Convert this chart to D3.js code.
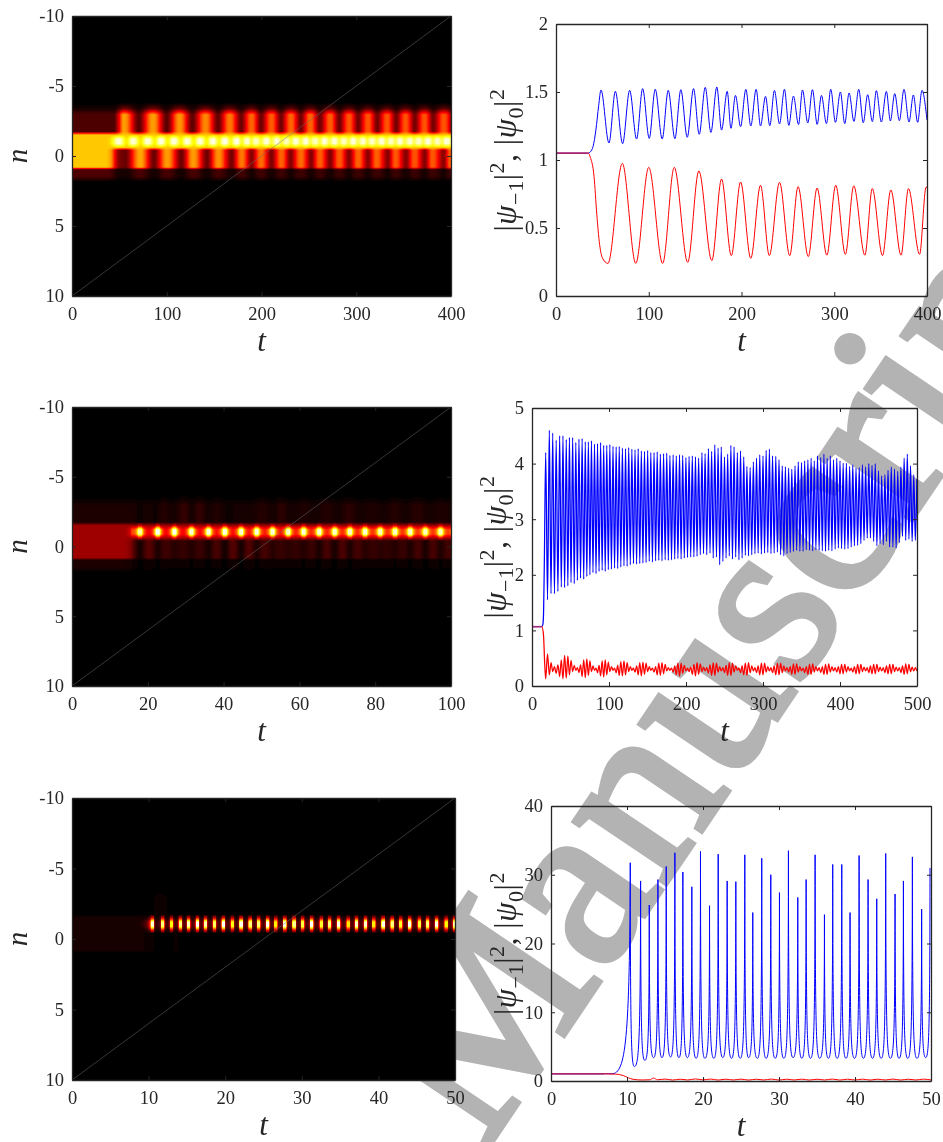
<!DOCTYPE html>
<html>
<head>
<meta charset="utf-8">
<script src="https://cdn.jsdelivr.net/npm/d3@7"></script>
<style>
  html, body { margin: 0; padding: 0; background: #fff; }
  svg { display: block; }
  text { font-family: "Liberation Serif", serif; fill: #262626; }
</style>
</head>
<body>
<script>
// top row, t = 0..400
const blueT1 = [0, 35, 37, 40, 43, 46, 48.5, 57.1, 64, 71.8, 79.4, 86.9, 93.4, 100.5, 107, 114.5, 121, 128.2, 134.6, 141.5, 148.3, 154.4, 160.9, 167, 173.4, 178.5, 184.6, 188.6, 193.5, 199, 204.7, 210, 215.8, 220.5, 225.9, 230.5, 235.5, 241, 246.3, 251, 256, 261.5, 265.7, 271.5, 276.5, 281.6, 286.2, 291.6, 296.2, 301.3, 306.6, 311.3, 316, 321.2, 326.4, 331.3, 336, 341.1, 345.4, 350.8, 356.2, 360.5, 365.2, 370.2, 375.2, 380.6, 385.3, 389.9, 394.6, 400];
const blueV1 = [1.05, 1.05, 1.06, 1.1, 1.22, 1.4, 1.515, 1.125, 1.505, 1.12, 1.512, 1.154, 1.525, 1.159, 1.52, 1.154, 1.512, 1.157, 1.517, 1.167, 1.525, 1.189, 1.534, 1.203, 1.537, 1.22, 1.505, 1.233, 1.475, 1.245, 1.52, 1.25, 1.52, 1.25, 1.468, 1.252, 1.512, 1.265, 1.52, 1.255, 1.47, 1.26, 1.515, 1.272, 1.517, 1.262, 1.475, 1.267, 1.52, 1.277, 1.5, 1.267, 1.493, 1.284, 1.52, 1.274, 1.48, 1.282, 1.51, 1.279, 1.505, 1.287, 1.488, 1.289, 1.52, 1.279, 1.478, 1.277, 1.512, 1.294];
const redT1 = [0, 35, 37, 41, 44, 47, 50, 56, 71.5, 86, 100, 115, 127.5, 142, 154, 168, 178.5, 189, 199, 210, 220.5, 230, 241, 252, 261, 272, 281.5, 292, 301.6, 312, 321, 333, 341, 352, 361, 372, 380, 392, 399, 400];
const redV1 = [1.05, 1.05, 1.02, 0.88, 0.6, 0.38, 0.28, 0.24, 0.975, 0.24, 0.946, 0.24, 0.946, 0.247, 0.92, 0.26, 0.86, 0.297, 0.838, 0.277, 0.814, 0.297, 0.836, 0.297, 0.804, 0.29, 0.794, 0.3, 0.814, 0.306, 0.81, 0.3, 0.79, 0.297, 0.78, 0.3, 0.79, 0.306, 0.8, 0.8];
const upperT1 = [0, 44, 49, 54.5, 70, 85, 99.5, 113, 126.5, 140.5, 153.6, 166, 178, 189, 199, 210, 220, 230.5, 241, 251, 261, 272, 281.5, 292, 301.5, 312, 321.6, 332, 341.6, 351.5, 361.3, 371.5, 380.7, 392, 400];
const upperV1 = [0.18, 0.18, 0.5, 0.95, 0.2, 0.95, 0.2, 0.93, 0.21, 0.9, 0.22, 0.86, 0.24, 0.82, 0.24, 0.8, 0.25, 0.82, 0.25, 0.82, 0.25, 0.8, 0.25, 0.78, 0.26, 0.78, 0.26, 0.78, 0.26, 0.78, 0.26, 0.78, 0.26, 0.78, 0.25];

// middle row, t = 0..500, one entry per oscillation
const peakT2 = [17.8, 22.5, 26.9, 31.4, 35.9, 40.2, 44.5, 48.6, 52.8, 56.9,
  61, 65.1, 69.2, 73.2, 77.2, 81.2, 85.1, 89.1, 93.1, 97.1,
  101.1, 105.2, 109.3, 113.3, 117.4, 121.5, 125.6, 129.7, 133.8, 137.9,
  142, 146.1, 150.2, 154.3, 158.5, 162.6, 166.7, 170.9, 175, 179.1,
  183.3, 187.4, 191.6, 195.7, 199.9, 204, 208.2, 212.3, 216.4, 220.7,
  224.8, 229.1, 233.3, 237.4, 241.7, 245.8, 250, 254.1, 258.3, 262.4,
  266.7, 270.8, 275, 279.1, 283.3, 287.5, 291.6, 295.8, 300, 304.1,
  308.3, 312.4, 316.6, 320.8, 325, 329.1, 333.3, 337.4, 341.6, 345.8,
  350, 354.1, 358.3, 362.5, 366.6, 370.8, 375, 379.1, 383.3, 387.4,
  391.6, 395.8, 400, 404.1, 408.3, 412.5, 416.6, 420.8, 425, 429.1,
  433.3, 437.4, 441.6, 445.8, 450, 454.1, 458.3, 462.4, 466.6, 470.8,
  475, 479.1, 483.3, 487.4, 491.6, 495.8, 499.9];
const bluePeak2 = [4.2, 4.6, 4.55, 4.42, 4.5, 4.5, 4.43, 4.47, 4.47, 4.38,
  4.44, 4.45, 4.39, 4.39, 4.41, 4.35, 4.36, 4.38, 4.33, 4.33,
  4.34, 4.31, 4.3, 4.31, 4.28, 4.27, 4.29, 4.26, 4.25, 4.27,
  4.23, 4.22, 4.24, 4.2, 4.2, 4.21, 4.17, 4.18, 4.19, 4.15,
  4.16, 4.14, 4.16, 4.15, 4.11, 4.13, 4.14, 4.12, 4.1, 4.2,
  4.18, 4.27, 4.22, 4.34, 4.28, 4.3, 4.12, 4.17, 4.33, 4.3,
  4.2, 4.23, 4.12, 3.95, 3.93, 4.03, 4.1, 4.16, 4.14, 4.24,
  4.26, 4.14, 4.13, 4.07, 3.96, 3.94, 3.92, 3.9, 3.96, 4.03,
  4.02, 4.05, 4.07, 4.1, 4.05, 4.14, 4.11, 4.17, 4.1, 4.14,
  4.07, 4.1, 4.05, 4.01, 4.01, 3.95, 3.98, 3.92, 3.93, 3.98,
  3.94, 4.0, 3.97, 4.0, 3.87, 3.78, 3.8, 3.88, 3.94, 3.9,
  3.86, 3.94, 4.1, 4.17, 3.96, 3.8, 3.72];
const blueLow2 = [1.55, 1.66, 1.66, 1.7, 1.78, 1.77, 1.8, 1.86, 1.84, 1.9,
  1.94, 1.92, 1.97, 2.0, 2.04, 2.02, 2.06, 2.08, 2.06, 2.09,
  2.1, 2.12, 2.11, 2.14, 2.16, 2.15, 2.18, 2.2, 2.19, 2.2,
  2.21, 2.22, 2.24, 2.23, 2.25, 2.26, 2.25, 2.27, 2.26, 2.27,
  2.28, 2.29, 2.28, 2.3, 2.31, 2.32, 2.32, 2.33, 2.36, 2.38,
  2.36, 2.39, 2.3, 2.32, 2.18, 2.24, 2.3, 2.34, 2.28, 2.32,
  2.27, 2.3, 2.35, 2.34, 2.36, 2.38, 2.39, 2.37, 2.39, 2.4,
  2.38, 2.39, 2.41, 2.36, 2.34, 2.38, 2.4, 2.42, 2.44, 2.42,
  2.42, 2.45, 2.44, 2.43, 2.45, 2.44, 2.43, 2.42, 2.44, 2.43,
  2.46, 2.48, 2.47, 2.46, 2.47, 2.5, 2.52, 2.53, 2.56, 2.62,
  2.66, 2.66, 2.6, 2.52, 2.56, 2.54, 2.6, 2.5, 2.5, 2.48,
  2.58, 2.69, 2.62, 2.64, 2.6, 2.62];
const redHigh2 = [0.58, 0.42, 0.35, 0.38, 0.47, 0.55, 0.54, 0.46, 0.37, 0.33,
  0.38, 0.47, 0.49, 0.45, 0.36, 0.32, 0.37, 0.45, 0.47, 0.43,
  0.35, 0.32, 0.37, 0.44, 0.45, 0.42, 0.35, 0.32, 0.36, 0.42,
  0.43, 0.41, 0.35, 0.32, 0.35, 0.41, 0.42, 0.39, 0.33, 0.32,
  0.36, 0.41, 0.41, 0.37, 0.32, 0.34, 0.39, 0.42, 0.4, 0.34,
  0.33, 0.38, 0.42, 0.41, 0.35, 0.33, 0.37, 0.42, 0.41, 0.36,
  0.32, 0.36, 0.41, 0.42, 0.36, 0.33, 0.36, 0.41, 0.41, 0.35,
  0.33, 0.36, 0.41, 0.41, 0.36, 0.33, 0.35, 0.4, 0.4, 0.35,
  0.32, 0.35, 0.39, 0.4, 0.35, 0.33, 0.35, 0.39, 0.4, 0.35,
  0.33, 0.35, 0.39, 0.39, 0.35, 0.32, 0.35, 0.39, 0.39, 0.34,
  0.33, 0.36, 0.39, 0.39, 0.34, 0.33, 0.36, 0.39, 0.39, 0.34,
  0.33, 0.36, 0.4, 0.39, 0.34, 0.33, 0.4];
const redLow2 = [0.13, 0.2, 0.26, 0.23, 0.17, 0.13, 0.14, 0.2, 0.26, 0.28,
  0.24, 0.17, 0.15, 0.19, 0.26, 0.28, 0.24, 0.18, 0.16, 0.2,
  0.26, 0.28, 0.24, 0.19, 0.18, 0.2, 0.26, 0.28, 0.25, 0.2,
  0.18, 0.21, 0.26, 0.28, 0.25, 0.2, 0.19, 0.22, 0.27, 0.28,
  0.25, 0.2, 0.18, 0.23, 0.27, 0.26, 0.21, 0.18, 0.21, 0.26,
  0.27, 0.23, 0.19, 0.19, 0.25, 0.27, 0.24, 0.19, 0.19, 0.25,
  0.28, 0.24, 0.2, 0.19, 0.24, 0.27, 0.24, 0.2, 0.2, 0.25,
  0.27, 0.24, 0.2, 0.2, 0.24, 0.27, 0.25, 0.21, 0.21, 0.25,
  0.27, 0.24, 0.21, 0.21, 0.25, 0.27, 0.24, 0.21, 0.21, 0.25,
  0.27, 0.25, 0.22, 0.22, 0.25, 0.27, 0.25, 0.22, 0.22, 0.26,
  0.27, 0.24, 0.22, 0.22, 0.26, 0.27, 0.24, 0.22, 0.22, 0.26,
  0.27, 0.24, 0.21, 0.22, 0.26, 0.27, 0.27];
const blueStartT2 = [0, 12.5, 14, 15, 16];
const blueStartV2 = [1.07, 1.07, 1.1, 1.3, 2.2];
const redStartT2 = [0, 13, 15, 16.5];
const redStartV2 = [1.07, 1.07, 0.9, 0.4];
const upperT2 = [0, 16, 17.5, 20, 22, 24, 26.5, 29.5, 31.5, 33.5, 36, 38, 41, 44, 47, 50, 53, 55, 58, 61, 64, 67, 70, 73, 76, 79, 82, 85, 88, 91, 94, 97, 100];
const upperV2 = [0.18, 0.18, 0.09, 0.15, 0.1, 0.24, 0.12, 0.34, 0.14, 0.33, 0.12, 0.22, 0.1, 0.14, 0.12, 0.24, 0.13, 0.28, 0.12, 0.2, 0.12, 0.24, 0.14, 0.28, 0.14, 0.2, 0.12, 0.24, 0.14, 0.27, 0.13, 0.2, 0.14];

// bottom row, t = 0..50
const blueT3 = [0, 8, 10.43, 10.97, 11.79, 12.35, 12.93, 13.5, 14.07, 14.6, 15.16, 15.73, 16.3, 16.83, 17.35, 17.95, 18.53, 19.1, 19.67, 20.25, 20.86, 21.43, 22, 22.6, 23.18, 23.75, 24.32, 24.9, 25.5, 26, 26.55, 27.15, 27.73, 28.3, 28.92, 29.5, 30.06, 30.65, 31.24, 31.85, 32.47, 33, 33.57, 34.15, 34.75, 35.35, 35.98, 36.5, 37.07, 37.65, 38.26, 38.8, 39.35, 39.95, 40.54, 41.1, 41.72, 42.3, 42.86, 43.45, 44.04, 44.65, 45.27, 45.8, 46.37, 46.95, 47.55, 48.15, 48.77, 49.3, 49.87];
const blueV3 = [1.05, 1.05, 31.75, 2.1, 29.1, 3, 25.6, 3.4, 29.3, 3.4, 31.2, 3.5, 33.2, 3.4, 30.4, 3.4, 28.25, 3.3, 33.4, 3.3, 25.5, 3.3, 33, 3.4, 29.1, 3.3, 29, 3.3, 32.9, 3.4, 24.5, 3.3, 32.4, 3.3, 30, 3.3, 27.4, 3.3, 33.5, 3.4, 26.7, 3.3, 29.3, 3.3, 32.9, 3.3, 24.2, 3.3, 31.5, 3.3, 31.5, 3.3, 24.5, 3.3, 32.8, 3.3, 29.3, 3.3, 26.5, 3.3, 33.1, 3.3, 27.2, 3.3, 29.1, 3.3, 32.6, 3.3, 25, 3.4, 31];
const redT3 = [0, 7, 8.5, 9.5, 10.2, 10.8, 12, 13, 13.5, 14, 15, 16, 17, 18, 19, 20, 21, 22, 23, 24, 25, 26, 27, 28, 29, 30, 31, 32, 33, 34, 35, 36, 37, 38, 39, 40, 41, 42, 43, 44, 45, 46, 47, 48, 49, 50];
const redV3 = [1.05, 1.05, 1.0, 0.8, 0.45, 0.25, 0.15, 0.18, 0.42, 0.18, 0.28, 0.14, 0.26, 0.15, 0.3, 0.16, 0.28, 0.14, 0.26, 0.15, 0.27, 0.14, 0.26, 0.15, 0.28, 0.14, 0.26, 0.15, 0.27, 0.14, 0.26, 0.15, 0.28, 0.14, 0.26, 0.15, 0.27, 0.14, 0.26, 0.15, 0.28, 0.14, 0.26, 0.15, 0.27, 0.15];
const upperT3 = [0, 9.5, 10.5, 11.5, 12.5, 50];
const upperV3 = [0.18, 0.18, 0.25, 0.55, 0.25, 0.25];

// shared plateau where both curves sit on top of each other
const overlapT = [[0, 35], [0, 13], [0, 7]];
const overlapV = [1.05, 1.07, 1.05];

const tTicks1 = [0, 100, 200, 300, 400];
const tTicks2 = [0, 20, 40, 60, 80, 100];
const tTicks2b = [0, 100, 200, 300, 400, 500];
const tTicks3 = [0, 10, 20, 30, 40, 50];
const nTicks = [-10, -5, 0, 5, 10];
const psiTicks1 = [0, 0.5, 1, 1.5, 2];
const psiTicks2 = [0, 1, 2, 3, 4, 5];
const psiTicks3 = [0, 10, 20, 30, 40];

const width = 943, height = 1142;
const axisColor = '#262626';

const svg = d3.select('body').append('svg').attr('width', width).attr('height', height);
svg.append('rect').attr('width', width).attr('height', height).attr('fill', '#fff');

// the grey stamp lies under every panel
svg.append('text')
    .attr('transform', 'translate(484,1153) rotate(-56)')
    .attr('font-size', 240)
    .attr('stroke', '#b3b3b3')
    .attr('stroke-width', 6)
    .style('fill', '#b3b3b3')
    .text('Manuscript');

const hot = d3.scaleLinear()
    .domain([0, 0.375, 0.75, 1])
    .range(['#000000', '#ff0000', '#ffff00', '#ffffff'])
    .clamp(true);
// lookup table, the heat images have a lot of pixels
const hotTable = d3.range(1025).map((i) => d3.rgb(hot(i / 1024)));

// let the curve generator draw into a recorder, then read one value per pixel column
function sampleRow(ts, vs, curve, x, tMax, spread) {
    const x0 = x.range()[0];
    const cols = new Float32Array(Math.ceil(x.range()[1] - x0) + 1);
    const put = (px, v) => {
        const c = Math.round(px - x0);
        for (let d = -spread; d <= spread; d++) {
            if (c + d >= 0 && c + d < cols.length) cols[c + d] = Math.max(cols[c + d], v);
        }
    };
    let cx = 0, cy = 0;
    const recorder = {
        moveTo(a, b) { cx = a; cy = b; put(a, b); },
        lineTo(a, b) {
            for (let s = 0; s <= 1; s += 0.05) put(cx + (a - cx) * s, cy + (b - cy) * s);
            cx = a; cy = b;
        },
        bezierCurveTo(a1, b1, a2, b2, a, b) {
            for (let s = 0; s <= 1; s += 0.01) {
                const m = 1 - s;
                put(m * m * m * cx + 3 * m * m * s * a1 + 3 * m * s * s * a2 + s * s * s * a,
                    m * m * m * cy + 3 * m * m * s * b1 + 3 * m * s * s * b2 + s * s * s * b);
            }
            cx = a; cy = b;
        },
        closePath() {}
    };
    const pts = d3.zip(ts, vs).filter((p) => p[0] <= tMax * 1.03);
    d3.line().x((p) => x(p[0])).y((p) => p[1]).curve(curve).context(recorder)(pts);
    return cols;
}

// spike shape: slow near a trough, almost vertical near a peak.
// a, b, k set how hard the spike is, upIsNegative is for screen coordinates
function spikeCurve(upIsNegative, a, b, k) {
    return function (context) {
        let x0, y0, started;
        return {
            lineStart() { started = false; },
            lineEnd() {},
            point(x, y) {
                x = +x; y = +y;
                if (!started) {
                    context.moveTo(x, y);
                    started = true;
                } else {
                    const dx = x - x0, dy = y - y0;
                    if ((dy < 0) === upIsNegative) {
                        context.bezierCurveTo(x0 + a * dx, y0, x - b * dx, y0 + k * dy, x, y);
                    } else {
                        context.bezierCurveTo(x0 + b * dx, y - k * dy, x - a * dx, y, x, y);
                    }
                }
                x0 = x; y0 = y;
            }
        };
    };
}

function addAxes(g, x, y, xTicks, yTicks, yFormat, box) {
    const xAxis = (sel, axis) => sel.call(axis.tickValues(xTicks).tickSizeOuter(0));
    const yAxis = (sel, axis) => sel.call(axis.tickValues(yTicks).tickSizeOuter(0));

    g.append('g').attr('transform', `translate(0,${box.bottom})`)
        .call(xAxis, d3.axisBottom(x).tickSizeInner(-4).tickPadding(11).tickFormat((d) => d));
    g.append('g').attr('transform', `translate(0,${box.top})`)
        .call(xAxis, d3.axisTop(x).tickSizeInner(-4).tickFormat(''));
    g.append('g').attr('transform', `translate(${box.left},0)`)
        .call(yAxis, d3.axisLeft(y).tickSizeInner(-4).tickPadding(8).tickFormat(yFormat));
    g.append('g').attr('transform', `translate(${box.right},0)`)
        .call(yAxis, d3.axisRight(y).tickSizeInner(-4).tickFormat(''));

    g.selectAll('.domain').attr('stroke', axisColor).attr('stroke-width', 1.3);
    g.selectAll('.tick line').attr('stroke', axisColor).attr('stroke-width', 1);
    g.selectAll('.tick text').attr('font-size', 18.5).attr('font-family', '"Liberation Serif", serif').style('fill', axisColor);
}

function drawHeat(box, tMax, cMax, xTicks, midT, midV, midCurve, lowT, lowV, lowCurve, upT, upV, plateau, edgeShare, spread) {
    const g = svg.append('g');
    const x = d3.scaleLinear([0, tMax], [box.left, box.right]);
    const y = d3.scaleLinear([-10, 10], [box.top, box.bottom]);

    const w = Math.round(box.right - box.left), h = Math.round(box.bottom - box.top);
    const mid = sampleRow(midT, midV, midCurve, x, tMax, spread);
    const low = sampleRow(lowT, lowV, lowCurve, x, tMax, 0);
    const up = sampleRow(upT, upV, d3.curveMonotoneX, x, tMax, 0);

    // n positions where the sites change over, as they look in the image
    const nodes = [-3.8, -3.4, -2.95, -1.75, -1.5, -1.2, -0.9, -0.6, -0.4, 0.8, 0.98, 1.45, 1.85];
    const rowN = d3.range(h).map((r) => y.invert(box.top + r + 0.5));
    const rowPos = d3.scaleLinear().domain(nodes).range(nodes.map((d, i) => i)).clamp(true);
    const rowAt = rowN.map((n) => rowPos(n));

    const canvas = document.createElement('canvas');
    canvas.width = w; canvas.height = h;
    const ctx = canvas.getContext('2d');
    const img = ctx.createImageData(w, h);
    for (let c = 0; c < w; c++) {
        const edge = Math.max(Math.min(mid[c], plateau), edgeShare * mid[c]);
        const vals = [0, 0.25 * up[c], up[c], up[c], edge, mid[c], mid[c], edge, low[c], low[c], 0.17 * low[c], 0.17 * low[c], 0];
        for (let r = 0; r < h; r++) {
            const p = rowAt[r];
            const k = Math.min(Math.floor(p), vals.length - 2);
            const v = vals[k] + (vals[k + 1] - vals[k]) * (p - k);
            const rgb = hotTable[Math.min(1024, Math.round(v / cMax * 1024))];
            const i = (r * w + c) * 4;
            img.data[i] = rgb.r; img.data[i + 1] = rgb.g; img.data[i + 2] = rgb.b; img.data[i + 3] = 255;
        }
    }
    ctx.putImageData(img, 0, 0);

    const clipId = 'clip' + Math.round(box.top);
    svg.append('clipPath').attr('id', clipId).append('rect')
        .attr('x', box.left).attr('y', box.top).attr('width', w).attr('height', h);
    svg.append('filter').attr('id', 'soft' + clipId).append('feGaussianBlur').attr('stdDeviation', 0.7);
    g.append('rect').attr('x', box.left).attr('y', box.top).attr('width', w).attr('height', h).attr('fill', '#000');
    g.append('g').attr('clip-path', `url(#${clipId})`)
        .append('image')
        .attr('x', box.left).attr('y', box.top).attr('width', w).attr('height', h)
        .attr('filter', `url(#soft${clipId})`)
        .attr('href', canvas.toDataURL());

    // thin seam across the image, corner to corner
    g.append('line')
        .attr('x1', x(0)).attr('y1', y(10)).attr('x2', x(tMax)).attr('y2', y(-10))
        .attr('stroke', '#6e6e6e').attr('stroke-width', 0.5);

    addAxes(g, x, y, xTicks, nTicks, (d) => d, box);

    g.append('text').attr('x', (box.left + box.right) / 2).attr('y', box.bottom + 55)
        .attr('text-anchor', 'middle').attr('font-size', 31).attr('font-style', 'italic').text('t');
    g.append('text').attr('transform', `translate(27,${(box.top + box.bottom) / 2}) rotate(-90)`)
        .attr('text-anchor', 'middle').attr('font-size', 29).attr('font-style', 'italic').text('n');
}

function drawLines(box, tMax, vMax, xTicks, yTicks, yFormat, blueT, blueV, redT, redV, curve, plateauT, plateauV, labelX, lineWidth) {
    const g = svg.append('g');
    const x = d3.scaleLinear([0, tMax], [box.left, box.right]);
    const y = d3.scaleLinear([0, vMax], [box.bottom, box.top]);
    const line = d3.line().x((p) => x(p[0])).y((p) => y(p[1]));

    const clipId = 'clipl' + Math.round(box.top);
    svg.append('clipPath').attr('id', clipId).append('rect')
        .attr('x', box.left).attr('y', box.top).attr('width', box.right - box.left).attr('height', box.bottom - box.top);
    const plot = g.append('g').attr('clip-path', `url(#${clipId})`);

    plot.append('path').attr('d', line.curve(curve)(d3.zip(blueT, blueV)))
        .attr('fill', 'none').attr('stroke', '#0000ff').attr('stroke-width', lineWidth)
        .style('mix-blend-mode', 'multiply');
    plot.append('path').attr('d', line.curve(d3.curveMonotoneX)(d3.zip(redT, redV)))
        .attr('fill', 'none').attr('stroke', '#ff0000').attr('stroke-width', lineWidth);
    plot.append('path').attr('d', line.curve(d3.curveLinear)(plateauT.map((t) => [t, plateauV])))
        .attr('fill', 'none').attr('stroke', '#a02878').attr('stroke-width', 1.2);

    addAxes(g, x, y, xTicks, yTicks, yFormat, box);

    g.append('text').attr('x', (box.left + box.right) / 2).attr('y', box.bottom + 55)
        .attr('text-anchor', 'middle').attr('font-size', 31).attr('font-style', 'italic').text('t');

    const label = g.append('text')
        .attr('transform', `translate(${labelX},${(box.top + box.bottom) / 2}) rotate(-90)`)
        .attr('text-anchor', 'middle').attr('font-size', 31).attr('letter-spacing', 0.6);
    const part = (s, opts = {}) => label.append('tspan')
        .attr('font-style', opts.italic ? 'italic' : null)
        .attr('font-size', opts.small ? 22 : null)
        .attr('dy', opts.dy || null)
        .text(s);
    part('|'); part('ψ', { italic: true });
    part('−1', { small: true, dy: 7 });
    part('|', { dy: -7 }); part('2', { small: true, dy: -12 });
    part(',  ', { dy: 12 });
    part('|'); part('ψ', { italic: true });
    part('0', { small: true, dy: 7 });
    part('|', { dy: -7 }); part('2', { small: true, dy: -12 });
}

// middle row: troughs fall half way between neighbouring peaks
const midT2 = d3.pairs(peakT2, (a, b) => (a + b) / 2);
const blue2 = peakT2.flatMap((t, i) => (i < midT2.length ? [[t, bluePeak2[i]], [midT2[i], blueLow2[i]]] : [[t, bluePeak2[i]]]));
const red2 = peakT2.flatMap((t, i) => (i < midT2.length ? [[t, redLow2[i]], [midT2[i], redHigh2[i]]] : [[t, redLow2[i]]]));
const blueT2 = blueStartT2.concat(blue2.map((p) => p[0]));
const blueV2 = blueStartV2.concat(blue2.map((p) => p[1]));
const redT2 = redStartT2.concat(red2.map((p) => p[0]));
const redV2 = redStartV2.concat(red2.map((p) => p[1]));

drawHeat({ left: 72, right: 451, top: 16, bottom: 296 }, 400, 1.57, tTicks1,
    blueT1, blueV1, d3.curveMonotoneX, redT1, redV1, d3.curveMonotoneX, upperT1, upperV1, 1.05, 0.7, 0);
drawHeat({ left: 72, right: 451, top: 407, bottom: 686 }, 100, 4.6, tTicks2,
    blueT2, blueV2, spikeCurve(false, 0.55, 0.2, 0.3), redT2, redV2, d3.curveMonotoneX, upperT2, upperV2, 1.07, 0.35, 1);
drawHeat({ left: 72, right: 455, top: 798, bottom: 1080 }, 50, 33.5, tTicks3,
    blueT3, blueV3, spikeCurve(false, 0.85, 0.02, 0.1), redT3, redV3, d3.curveMonotoneX, upperT3, upperV3, 1.05, 0.35, 1);

drawLines({ left: 556, right: 927, top: 24, bottom: 296 }, 400, 2, tTicks1, psiTicks1, (d) => d,
    blueT1, blueV1, redT1, redV1, d3.curveMonotoneX, overlapT[0], overlapV[0], 516, 1);
drawLines({ left: 532, right: 917, top: 408, bottom: 686 }, 500, 5, tTicks2b, psiTicks2, (d) => d,
    blueT2, blueV2, redT2, redV2, d3.curveMonotoneX, overlapT[1], overlapV[1], 506, 1.25);
drawLines({ left: 551, right: 931, top: 806, bottom: 1081 }, 50, 40, tTicks3, psiTicks3, (d) => d,
    blueT3, blueV3, redT3, redV3, spikeCurve(true, 0.75, 0.03, 0.15), overlapT[2], overlapV[2], 516, 1);
</script>
</body>
</html>
